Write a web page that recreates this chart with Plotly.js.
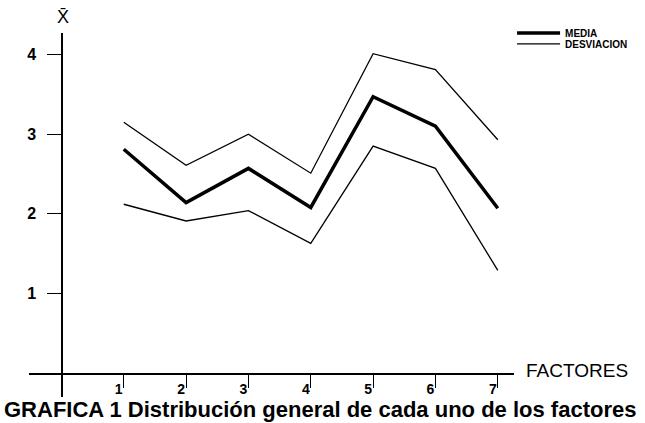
<!DOCTYPE html>
<html>
<head>
<meta charset="utf-8">
<script src="https://cdn.plot.ly/plotly-3.0.1.min.js"></script>
<style>html,body{margin:0;padding:0;background:#fff;}#chart{width:645px;height:423px;}</style>
</head>
<body>
<div id="chart"></div>
<script>
var factores = [1, 2, 3, 4, 5, 6, 7];
var media = [2.81, 2.14, 2.57, 2.08, 3.47, 3.10, 2.07];
var desvSuperior = [3.15, 2.61, 3.00, 2.51, 4.01, 3.81, 2.93];
var desvInferior = [2.12, 1.91, 2.04, 1.63, 2.85, 2.57, 1.29];
var yTicks = [1, 2, 3, 4];
var xTicks = [1, 2, 3, 4, 5, 6, 7];

var FONT = 'Liberation Sans, Arial, sans-serif';
var xr = [-0.52, 7.26], yr = [-0.30, 4.27];

var traces = [
  {x: factores, y: media, mode: 'lines', name: 'MEDIA', line: {color: '#000', width: 3.5}, legend: 'legend'},
  {x: factores, y: desvSuperior, mode: 'lines', name: 'DESVIACION', line: {color: '#000', width: 1.3}, legend: 'legend2'},
  {x: factores, y: desvInferior, mode: 'lines', name: 'DESVIACION', line: {color: '#000', width: 1.3}, showlegend: false}
];

var legFont = {family: FONT, size: 10, color: '#000', weight: 'bold'};
var layout = {
  width: 645, height: 423,
  margin: {l: 29, r: 127, t: 33, b: 26},
  paper_bgcolor: '#fff', plot_bgcolor: '#fff',
  showlegend: true,
  legend: {x: 0.996, y: 1.0, xanchor: 'left', yanchor: 'middle', font: legFont, itemwidth: 43, bgcolor: 'rgba(0,0,0,0)', tracegroupgap: 0},
  legend2: {x: 0.996, y: 0.97, xanchor: 'left', yanchor: 'middle', font: legFont, itemwidth: 43, bgcolor: 'rgba(0,0,0,0)', tracegroupgap: 0},
  xaxis: {
    range: xr, anchor: 'free', position: (0 - yr[0]) / (yr[1] - yr[0]),
    showline: true, linecolor: '#000', linewidth: 1.5, showgrid: false, zeroline: false,
    tickmode: 'array', tickvals: xTicks, ticktext: xTicks.map(String),
    ticks: 'outside', ticklen: 13, tickwidth: 1, tickcolor: '#000',
    tickfont: {family: FONT, size: 14, color: '#000', weight: 'bold'},
    ticklabelstandoff: -10, ticklabelshift: -5,
    automargin: false, fixedrange: true
  },
  yaxis: {
    range: yr, anchor: 'free', position: (0 - xr[0]) / (xr[1] - xr[0]),
    showline: true, linecolor: '#000', linewidth: 1.5, showgrid: false, zeroline: false,
    tickmode: 'array', tickvals: yTicks, ticktext: yTicks.map(String),
    ticks: 'outside', ticklen: 14, tickwidth: 1.3, tickcolor: '#000',
    tickfont: {family: FONT, size: 16, color: '#000', weight: 'bold'},
    ticklabelstandoff: 8,
    automargin: false, fixedrange: true
  },
  annotations: [
    {text: 'X\u0304', xref: 'paper', yref: 'paper', x: (0 - xr[0]) / (xr[1] - xr[0]), y: 1, xanchor: 'center', yanchor: 'bottom', xshift: 2, yshift: 4, showarrow: false, font: {family: FONT, size: 18, color: '#000'}},
    {text: 'FACTORES', xref: 'paper', yref: 'paper', x: 1, y: (0 - yr[0]) / (yr[1] - yr[0]), xanchor: 'left', yanchor: 'middle', xshift: 10, yshift: 3, showarrow: false, font: {family: FONT, size: 19, color: '#000'}},
    {text: 'GRAFICA 1 Distribución general de cada uno de los factores', xref: 'paper', yref: 'paper', x: 0.5, y: 0, xanchor: 'center', yanchor: 'top', xshift: 48, yshift: 2, showarrow: false, font: {family: FONT, size: 22, color: '#000', weight: 'bold'}}
  ]
};

Plotly.newPlot('chart', traces, layout, {displayModeBar: false, staticPlot: true});
</script>
</body>
</html>
